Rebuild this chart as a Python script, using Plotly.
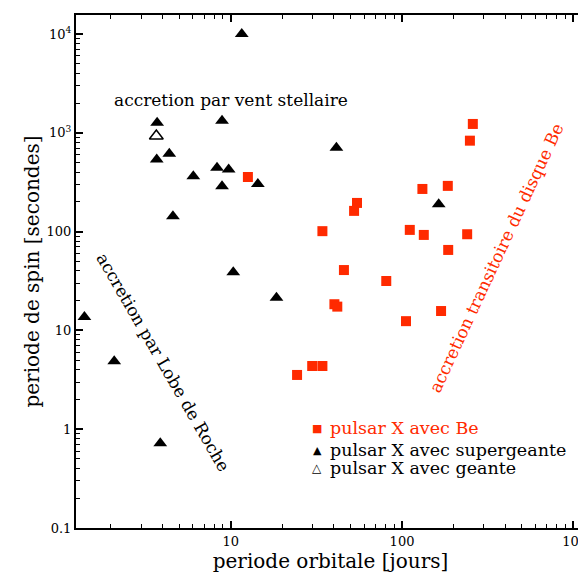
import numpy as np
import plotly.graph_objects as go

# Pulsars X avec étoile Be
be_porb = [12.6, 34.3, 52.5, 54.6, 45.8, 40.3, 41.9, 80.9, 105.5, 24.4, 29.9, 34.3,
           131.5, 185, 111, 134, 240, 186, 169, 249, 259]
be_spin = [357, 101, 162, 195, 40.8, 18.4, 17.4, 31.6, 12.4, 3.54, 4.36, 4.36,
           270, 290, 104, 92.5, 94, 65.2, 15.7, 832, 1228]

# Pulsars X avec supergéante
sg_porb = [11.6, 3.72, 8.9, 3.70, 4.38, 6.05, 8.32, 9.73, 8.9, 14.4, 4.6, 10.35,
           18.5, 41.4, 163.7, 1.40, 2.09, 3.88]
sg_spin = [10000, 1265, 1327, 535, 615, 363, 443, 424, 287, 303, 143, 38.7,
           21.4, 706, 189, 13.7, 4.87, 0.72]

# Pulsar X avec géante
g_porb = [3.68]
g_spin = [929]

y_tickvals = [0.1, 1, 10, 100, 1000, 10000]
y_ticktext = ["0.1", "1", "10", "100", "10<sup>3</sup>", "10<sup>4</sup>"]
x_tickvals = [1, 10, 100, 1000]
x_ticktext = ["1", "10", "100", "10<sup>3</sup>"]

legend_labels = ["pulsar X avec Be", "pulsar X avec supergeante", "pulsar X avec geante"]
legend_glyphs = ["\u25A0", "\u25B2", "\u25B3"]

RED = "#ff2a00"
FONT = "DejaVu Serif"

minor_vals = [m * 10.0 ** e for e in range(-2, 5) for m in range(2, 10)]

fig = go.Figure()
fig.add_trace(go.Scatter(
    x=be_porb, y=be_spin, mode="markers", name=legend_labels[0], showlegend=False,
    marker=dict(symbol="square", size=10, color=RED, line=dict(width=0)),
))
fig.add_trace(go.Scatter(
    x=sg_porb, y=sg_spin, mode="markers", name=legend_labels[1], showlegend=False,
    marker=dict(symbol="triangle-up", size=12, color="black", line=dict(width=0)),
))
fig.add_trace(go.Scatter(
    x=g_porb, y=g_spin, mode="markers", name=legend_labels[2], showlegend=False,
    marker=dict(symbol="triangle-up-open", size=12, color="black", line=dict(width=1.5)),
))

axis_common = dict(
    type="log", showline=True, linewidth=2, linecolor="black", mirror="allticks",
    ticks="inside", ticklen=7, tickwidth=1.5, tickcolor="black",
    showgrid=False, zeroline=False, automargin=False,
    tickfont=dict(family=FONT, size=13, color="black"),
    minor=dict(ticks="inside", ticklen=4, tickwidth=1, tickcolor="black",
               tickvals=minor_vals, showgrid=False),
)

fig.update_xaxes(
    **axis_common,
    range=[0.097, 3.068],
    tickmode="array", tickvals=x_tickvals, ticktext=x_ticktext,
    title=dict(text="periode orbitale [jours]", font=dict(family=FONT, size=20, color="black"),
               standoff=2),
)
fig.update_yaxes(
    **axis_common,
    range=[-1, 4.192],
    tickmode="array", tickvals=y_tickvals, ticktext=y_ticktext,
    title=dict(text="periode de spin [secondes]", font=dict(family=FONT, size=20, color="black"),
               standoff=2),
)

fig.add_annotation(text="accretion par vent stellaire", x=1.0, y=3.332, xref="x", yref="y",
                   showarrow=False, font=dict(family=FONT, size=17, color="black"))
fig.add_annotation(text="accretion par Lobe de Roche", x=0.605, y=0.680, xref="x", yref="y",
                   textangle=60, showarrow=False, font=dict(family=FONT, size=17, color="black"))
fig.add_annotation(text="accretion transitoire du disque Be", x=2.55, y=1.733, xref="x", yref="y",
                   textangle=-65, showarrow=False, font=dict(family=FONT, size=17, color=RED))

leg_y = [0.1949, 0.1511, 0.1179]
leg_colors = [RED, "black", "black"]
glyph_sizes = [11, 11, 12]
for lab, gl, yy, col, gs in zip(legend_labels, legend_glyphs, leg_y, leg_colors, glyph_sizes):
    fig.add_annotation(text=gl, x=0.4735, y=yy, xref="paper", yref="paper",
                       xanchor="center", yanchor="middle", showarrow=False,
                       font=dict(family="DejaVu Sans", size=gs, color=col))
    fig.add_annotation(text=lab, x=0.495, y=yy, xref="paper", yref="paper",
                       xanchor="left", yanchor="middle", showarrow=False,
                       font=dict(family=FONT, size=17.5, color=col))

# The page body adds an 8 px margin, so the figure is sized and padded to compensate.
fig.update_layout(
    width=578, height=569,
    margin=dict(l=68, r=1, t=7, b=49),
    paper_bgcolor="white", plot_bgcolor="white",
    showlegend=False,
)

fig.write_html("out.html")
